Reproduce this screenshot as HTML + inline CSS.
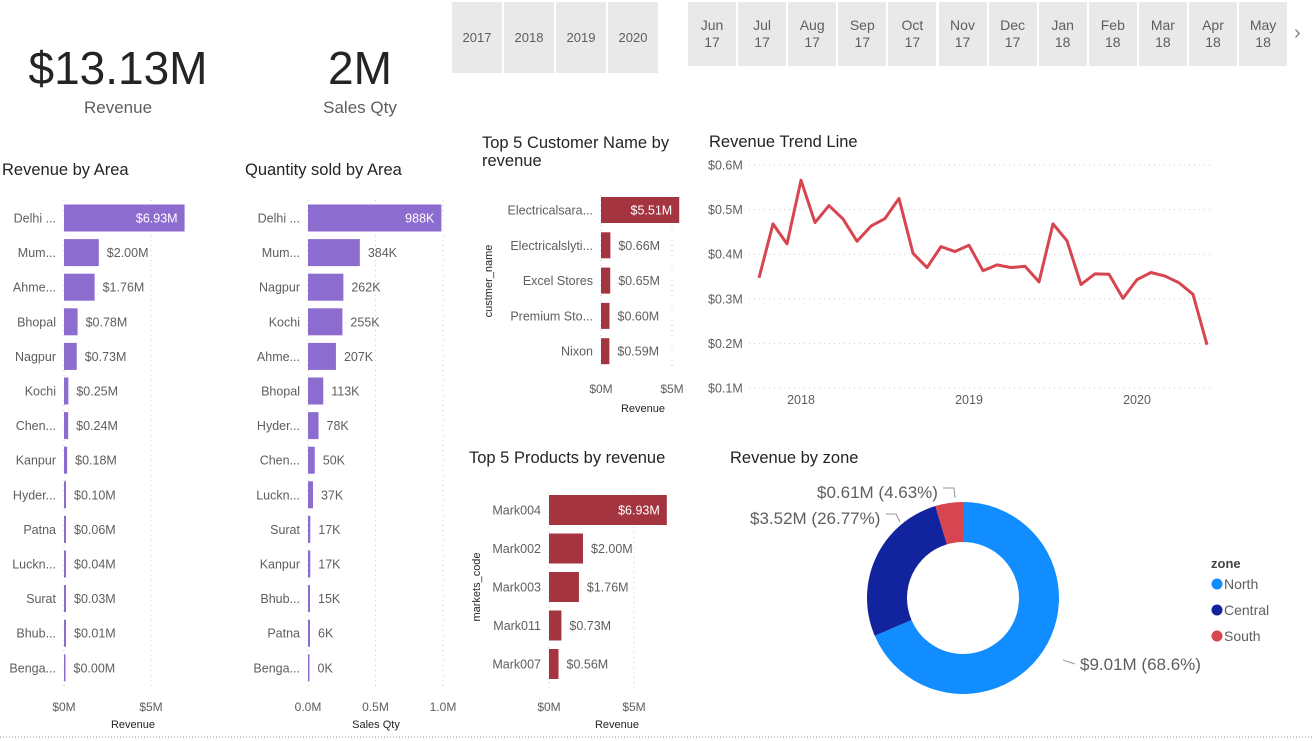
<!DOCTYPE html>
<html><head><meta charset="utf-8"><style>
body{margin:0;width:1312px;height:741px;overflow:hidden;background:#fff;font-family:"Liberation Sans",sans-serif;position:relative}
.abs{position:absolute}
.kpi{position:absolute;text-align:center;color:#252423}
.slc{position:absolute;background:#e9e9e9;color:#605e5c;font-size:13px;text-align:center;display:flex;align-items:center;justify-content:center;line-height:17px}
</style></head><body>
<div class="kpi" style="left:18px;top:40px;width:200px"><div style="font-size:46px;line-height:56px">$13.13M</div><div style="font-size:17px;color:#605e5c;margin-top:2px">Revenue</div></div>
<div class="kpi" style="left:260px;top:40px;width:200px"><div style="font-size:46px;line-height:56px">2M</div><div style="font-size:17px;color:#605e5c;margin-top:2px">Sales Qty</div></div>
<div id="slicers"></div>
<div class="abs" style="left:1294px;top:22px;font-size:20px;color:#888">›</div>
<svg id="c" width="1312" height="741" style="position:absolute;left:0;top:0;pointer-events:none" font-family="Liberation Sans, sans-serif"></svg>
<script>
const years=["2017","2018","2019","2020"];
const months=["Jun","Jul","Aug","Sep","Oct","Nov","Dec","Jan","Feb","Mar","Apr","May"];
const monthYears=["17","17","17","17","17","17","17","18","18","18","18","18"];
const areaCats=["Delhi ...","Mum...","Ahme...","Bhopal","Nagpur","Kochi","Chen...","Kanpur","Hyder...","Patna","Luckn...","Surat","Bhub...","Benga..."];
const areaRev=[6.93,2.00,1.76,0.78,0.73,0.25,0.24,0.18,0.10,0.06,0.04,0.03,0.01,0.00];
const qtyCats=["Delhi ...","Mum...","Nagpur","Kochi","Ahme...","Bhopal","Hyder...","Chen...","Luckn...","Surat","Kanpur","Bhub...","Patna","Benga..."];
const qtyVals=[988,384,262,255,207,113,78,50,37,17,17,15,6,0];
const custCats=["Electricalsara...","Electricalslyti...","Excel Stores","Premium Sto...","Nixon"];
const custVals=[5.51,0.66,0.65,0.60,0.59];
const prodCats=["Mark004","Mark002","Mark003","Mark011","Mark007"];
const prodVals=[6.93,2.00,1.76,0.73,0.56];
const trendVals=[0.347,0.468,0.423,0.566,0.471,0.509,0.479,0.429,0.463,0.480,0.525,0.402,0.370,0.417,0.406,0.420,0.363,0.376,0.370,0.373,0.338,0.468,0.430,0.332,0.356,0.355,0.301,0.343,0.359,0.351,0.336,0.310,0.197];
const trendTicks=[0.1,0.2,0.3,0.4,0.5,0.6];
const trendYears=["2018","2019","2020"];
const trendYearIdx=[3,15,27];
const zoneNames=["North","Central","South"];
const zoneVals=[9.01,3.52,0.61];
const zoneLabels=["$9.01M (68.6%)","$3.52M (26.77%)","$0.61M (4.63%)"];
const zoneColors=["#118DFF","#12239E","#D64550"];

const S=document.getElementById('c');const NS="http://www.w3.org/2000/svg";
function el(t,a,txt){const e=document.createElementNS(NS,t);for(const k in a)e.setAttribute(k,a[k]);if(txt!==undefined)e.textContent=txt;S.appendChild(e);return e;}
const sl=document.getElementById('slicers');
years.forEach((y,i)=>{const d=document.createElement('div');d.className='slc';


d.style.cssText=`left:${452+i*52}px;top:2px;width:50px;height:71px`;d.textContent=y;sl.appendChild(d);});
months.forEach((m,i)=>{const d=document.createElement('div');d.className='slc';


d.style.cssText=`left:${688+i*50.1}px;top:2px;width:48px;height:64px;font-size:14px`;d.innerHTML=m+'<br>'+monthYears[i];sl.appendChild(d);});

function title(x,y,t,n){const e=el('text',{x:x,y:y,'font-size':16.5,fill:'#252423'},t);

}
function hbar(o){
  const sc=v=>o.x0+v*o.pxPer;
  o.ticks.forEach((t,i)=>{const x=sc(t);const g=el('line',{x1:x,x2:x,y1:o.gTop,y2:o.gBot,stroke:'#ccc','stroke-dasharray':'1 4'});
  
  
  const tl=el('text',{x:x,y:o.tickY,'font-size':12,fill:'#605e5c','text-anchor':'middle'},o.tickLabels[i]);
  
  });
  o.cats.forEach((c,i)=>{const cy=o.y0+i*o.step;const w=Math.max(o.vals[i]*o.pxPer,o.vals[i]>0?2:1.5);
  const r=el('rect',{x:o.x0,y:cy-o.bh/2,width:w,height:o.bh,fill:o.color});
  
  
  const lb=el('text',{x:o.x0-8,y:cy+4.5,'font-size':12.5,fill:'#605e5c','text-anchor':'end'},c);
  
  
  const txt=o.fmt(o.vals[i]);let v;
  if(w>60) v=el('text',{x:o.x0+w-7,y:cy+4.5,'font-size':12.5,fill:'#fff','text-anchor':'end'},txt);
  else v=el('text',{x:o.x0+w+8,y:cy+4.5,'font-size':12.5,fill:'#605e5c'},txt);
  
  });
  const at=el('text',{x:o.axX,y:o.axY,'font-size':11,fill:'#252423','text-anchor':'middle'},o.axTitle);
  
  
  if(o.yTitle){const yt=el('text',{x:o.yX,y:o.yY,'font-size':11,fill:'#252423','text-anchor':'middle',transform:`rotate(-90 ${o.yX} ${o.yY})`},o.yTitle);
  
  }
}
title(2,175,"Revenue by Area","revenue-by-area-title");
hbar({name:'revenue-by-area',cats:areaCats,vals:areaRev,x0:64,pxPer:17.4,y0:218,step:34.6,bh:27,color:'#8D6CD0',ticks:[0,5],tickLabels:["$0M","$5M"],gTop:200,gBot:688,tickY:711,fmt:v=>'$'+v.toFixed(2)+'M',axTitle:'Revenue',axX:133,axY:728});
title(245,175,"Quantity sold by Area","quantity-by-area-title");
hbar({name:'quantity-by-area',cats:qtyCats,vals:qtyVals,x0:308,pxPer:0.135,y0:218,step:34.6,bh:27,color:'#8D6CD0',ticks:[0,500,1000],tickLabels:["0.0M","0.5M","1.0M"],gTop:200,gBot:688,tickY:711,fmt:v=>v+'K',axTitle:'Sales Qty',axX:376,axY:728});
title(482,148,"Top 5 Customer Name by","top-customers-title-1");
title(482,166,"revenue","top-customers-title-2");
hbar({name:'top-customers',cats:custCats,vals:custVals,x0:601,pxPer:14.2,y0:210,step:35.3,bh:26,color:'#A4343F',ticks:[0,5],tickLabels:["$0M","$5M"],gTop:195,gBot:370,tickY:393,fmt:v=>'$'+v.toFixed(2)+'M',axTitle:'Revenue',axX:643,axY:412,yTitle:'custmer_name',yX:492,yY:281});
title(469,463,"Top 5 Products by revenue","top-products-title");
hbar({name:'top-products',cats:prodCats,vals:prodVals,x0:549,pxPer:17,y0:510,step:38.5,bh:30,color:'#A4343F',ticks:[0,5],tickLabels:["$0M","$5M"],gTop:492,gBot:688,tickY:711,fmt:v=>'$'+v.toFixed(2)+'M',axTitle:'Revenue',axX:617,axY:728,yTitle:'markets_code',yX:480,yY:587});

title(709,147,"Revenue Trend Line","revenue-trend-title");
const tx=i=>759+i*14, ty=v=>165+(0.6-v)*(223/0.5);
trendTicks.forEach(t=>{const g=el('line',{x1:749,x2:1212,y1:ty(t),y2:ty(t),stroke:'#ccc','stroke-dasharray':'1 4'});


const l=el('text',{x:708,y:ty(t)+4.5,'font-size':12.5,fill:'#605e5c'},'$'+t.toFixed(1)+'M');

});
trendYears.forEach((y,i)=>{const l=el('text',{x:tx(trendYearIdx[i]),y:404,'font-size':12.5,fill:'#605e5c','text-anchor':'middle'},y);

});
const line=el('polyline',{points:trendVals.map((v,i)=>tx(i)+','+ty(v)).join(' '),fill:'none',stroke:'#D64550','stroke-width':3,'stroke-linejoin':'round'});



title(730,463,"Revenue by zone","revenue-by-zone-title");
const cx=963,cy=598,R=96,r=56;const tot=zoneVals.reduce((a,b)=>a+b,0);let a0=0;
const pt=(a,rad)=>[cx+rad*Math.sin(a),cy-rad*Math.cos(a)];
zoneVals.forEach((v,i)=>{const a1=a0+v/tot*2*Math.PI;const lg=(a1-a0)>Math.PI?1:0;
const p1=pt(a0,R),p2=pt(a1,R),p3=pt(a1,r),p4=pt(a0,r);
const p=el('path',{d:`M${p1} A${R},${R} 0 ${lg} 1 ${p2} L${p3} A${r},${r} 0 ${lg} 0 ${p4}Z`,fill:zoneColors[i]});

a0=a1;});
const lbls=[[1080,670,'start',[[1063,660],[1075,664]]],[750,524,'start',[[886,514],[896,514],[900,522]]],[817,498,'start',[[943,488],[954,488],[955,498]]]];
zoneLabels.forEach((t,i)=>{const L=lbls[i];const l=el('text',{x:L[0],y:L[1],'font-size':17,fill:'#605e5c','text-anchor':L[2]},t);


const pl=el('polyline',{points:L[3].map(q=>q.join(',')).join(' '),fill:'none',stroke:'#999'});

});
const lt=el('text',{x:1211,y:568,'font-size':13,'font-weight':'bold',fill:'#444'},'zone');


zoneNames.forEach((z,i)=>{const y=584+i*26;const c=el('circle',{cx:1217,cy:y,r:5.5,fill:zoneColors[i]});


const t=el('text',{x:1224,y:y+5,'font-size':14,fill:'#605e5c'},z);

});
const bl=el('line',{x1:0,x2:1312,y1:737,y2:737,stroke:'#999','stroke-dasharray':'1 2'});


</script>
</body></html>
